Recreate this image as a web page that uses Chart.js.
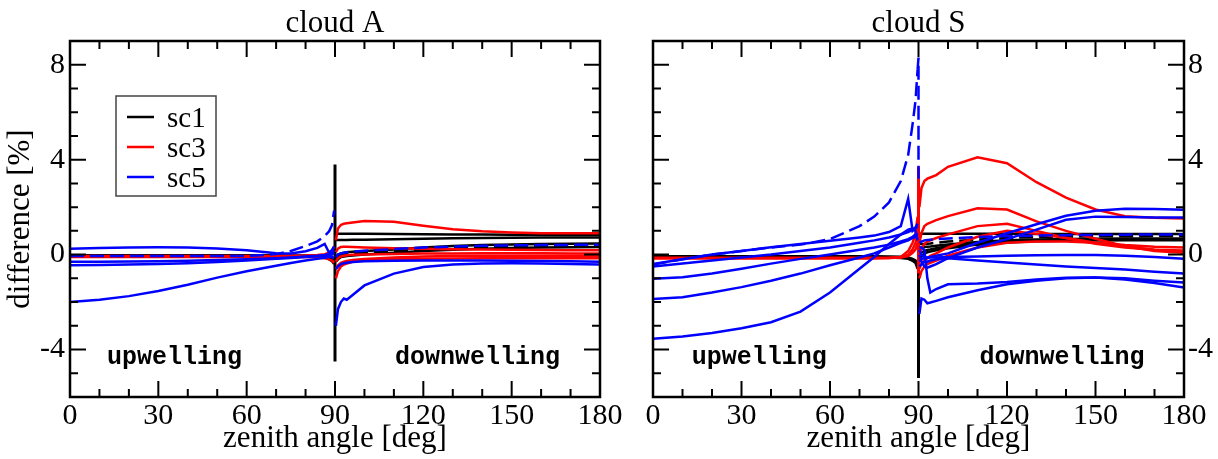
<!DOCTYPE html>
<html>
<head>
<meta charset="utf-8">
<script src="https://cdn.jsdelivr.net/npm/chart.js@4.4.1/dist/chart.umd.min.js"></script>
<style>
  html, body { margin: 0; padding: 0; background: #fff; }
  #wrap { position: relative; width: 1218px; height: 459px; overflow: hidden; }
  canvas { position: absolute; top: 0; }
  #cA { left: 0; }
  #cS { left: 580px; }
</style>
</head>
<body>
<div id="wrap">
  <canvas id="cA" width="640" height="459"></canvas>
  <canvas id="cS" width="638" height="459"></canvas>
</div>
<script>
// angle grids [deg]
const upX = [0, 10, 20, 30, 40, 50, 60, 70, 75, 80, 84, 86.5, 88, 89, 89.7];
const dnX = [90.3, 91, 92, 93, 94, 96, 100, 110, 120, 130, 140, 150, 160, 170, 180];
const spikeX = [90, 90];
const xTicks = [0, 30, 60, 90, 120, 150, 180];
const yTicks = [-4, 0, 4, 8];

// cloud A, upwelling
const aUpBlack1 = [-0.08, -0.08, -0.08, -0.08, -0.08, -0.08, -0.07, -0.07, -0.07, -0.07, -0.09, -0.13, -0.2, -0.28, -0.4];
const aUpBlack2 = [-0.03, -0.03, -0.03, -0.03, -0.03, -0.03, -0.03, -0.03, -0.04, -0.04, -0.05, -0.08, -0.12, -0.18, -0.3];
const aUpRed1 = [-0.06, -0.06, -0.06, -0.06, -0.06, -0.06, -0.06, -0.06, -0.05, -0.04, -0.02, 0.02, 0.08, 0.15, 0.35];
const aUpRed2 = [-0.1, -0.1, -0.1, -0.1, -0.1, -0.1, -0.1, -0.1, -0.1, -0.1, -0.12, -0.15, -0.2, -0.25, -0.35];
const aUpBlue1 = [0.25, 0.28, 0.3, 0.31, 0.3, 0.26, 0.18, 0.06, 0.05, 0.14, 0.28, 0.45, 0.08, 0.2, 0.35];
const aUpBlue2 = [-0.3, -0.3, -0.29, -0.28, -0.26, -0.23, -0.2, -0.15, -0.12, -0.08, -0.05, -0.02, 0.03, 0.08, 0.18];
const aUpBlue3 = [-0.45, -0.44, -0.42, -0.4, -0.36, -0.31, -0.25, -0.18, -0.14, -0.1, -0.07, -0.05, -0.02, 0.0, 0.08];
const aUpBlue4 = [-2.0, -1.9, -1.75, -1.53, -1.27, -0.97, -0.7, -0.47, -0.35, -0.25, -0.18, -0.13, -0.1, -0.1, -0.15];
const aUpBlueDash = [-0.06, -0.06, -0.06, -0.06, -0.06, -0.06, -0.06, 0.02, 0.15, 0.36, 0.56, 0.78, 0.98, 1.25, 1.85];

// cloud A, downwelling
const aDnBlack1 = [0.88, 0.88, 0.88, 0.88, 0.88, 0.88, 0.88, 0.87, 0.86, 0.85, 0.85, 0.84, 0.84, 0.83, 0.83];
const aDnBlack2 = [0.62, 0.62, 0.62, 0.62, 0.62, 0.63, 0.63, 0.65, 0.67, 0.69, 0.7, 0.71, 0.72, 0.72, 0.72];
const aDnBlack3 = [-0.1, 0.0, 0.05, 0.08, 0.1, 0.12, 0.15, 0.22, 0.3, 0.36, 0.4, 0.43, 0.45, 0.46, 0.47];
const aDnBlack4 = [-0.2, -0.1, -0.02, 0.0, 0.02, 0.05, 0.08, 0.15, 0.22, 0.28, 0.32, 0.35, 0.37, 0.38, 0.38];
const aDnBlack5 = [-0.3, -0.2, -0.1, -0.08, -0.06, -0.04, 0.0, 0.08, 0.15, 0.2, 0.25, 0.28, 0.3, 0.31, 0.32];
const aDnRed1 = [0.6, 1.1, 1.25, 1.3, 1.32, 1.35, 1.42, 1.38, 1.22, 1.07, 0.98, 0.93, 0.9, 0.9, 0.9];
const aDnRed2 = [0.1, 0.25, 0.32, 0.33, 0.33, 0.32, 0.3, 0.27, 0.25, 0.23, 0.21, 0.2, 0.19, 0.18, 0.18];
const aDnRed3 = [-0.3, -0.15, -0.08, -0.05, -0.03, -0.01, 0.0, 0.03, 0.05, 0.05, 0.06, 0.06, 0.06, 0.05, 0.05];
const aDnRed4 = [-0.6, -0.45, -0.35, -0.3, -0.27, -0.23, -0.18, -0.12, -0.08, -0.06, -0.05, -0.05, -0.05, -0.05, -0.05];
const aDnRed5 = [-1.0, -0.7, -0.5, -0.42, -0.38, -0.3, -0.23, -0.18, -0.17, -0.16, -0.15, -0.15, -0.15, -0.15, -0.15];
const aDnBlue1 = [-3.0, -2.3, -2.0, -1.85, -1.9, -1.7, -1.3, -0.8, -0.52, -0.42, -0.37, -0.36, -0.37, -0.4, -0.42];
const aDnBlue2 = [-0.6, -0.5, -0.4, -0.36, -0.34, -0.31, -0.28, -0.26, -0.25, -0.25, -0.25, -0.26, -0.27, -0.28, -0.3];
const aDnBlueDash = [-0.1, 0.0, 0.05, 0.08, 0.1, 0.12, 0.16, 0.23, 0.3, 0.34, 0.37, 0.39, 0.4, 0.41, 0.41];
const aSpikeBlack = [3.8, -4.5];

// cloud S, upwelling
const sUpBlack1 = [-0.12, -0.12, -0.12, -0.12, -0.12, -0.12, -0.12, -0.12, -0.12, -0.12, -0.14, -0.18, -0.26, -0.36, -0.6];
const sUpBlack2 = [-0.07, -0.07, -0.07, -0.07, -0.07, -0.07, -0.07, -0.07, -0.07, -0.08, -0.09, -0.12, -0.18, -0.25, -0.4];
const sUpRed1 = [-0.15, -0.15, -0.15, -0.15, -0.15, -0.15, -0.15, -0.15, -0.15, -0.14, -0.1, 0.15, 0.5, 0.9, 1.6];
const sUpRed2 = [-0.15, -0.15, -0.15, -0.15, -0.15, -0.15, -0.15, -0.15, -0.15, -0.14, -0.12, 0.0, 0.22, 0.5, 0.95];
const sUpRed3 = [-0.13, -0.13, -0.13, -0.13, -0.13, -0.13, -0.13, -0.13, -0.13, -0.13, -0.12, -0.06, 0.08, 0.22, 0.5];
const sUpBlue1 = [-0.4, -0.2, 0.0, 0.15, 0.31, 0.45, 0.58, 0.72, 0.8, 0.95, 1.2, 2.35, 1.0, 1.1, 1.2];
const sUpBlue2 = [-0.5, -0.38, -0.25, -0.12, 0.0, 0.15, 0.3, 0.5, 0.6, 0.72, 0.85, 0.95, 1.05, 1.15, 1.3];
const sUpBlue3 = [-1.02, -0.95, -0.8, -0.6, -0.38, -0.18, 0.0, 0.2, 0.3, 0.42, 0.55, 0.65, 0.75, 0.85, 0.9];
const sUpBlue4 = [-1.87, -1.8, -1.6, -1.37, -1.1, -0.8, -0.45, -0.12, 0.05, 0.3, 0.5, 0.6, 0.7, 0.75, 0.8];
const sUpBlue5 = [-3.55, -3.45, -3.3, -3.1, -2.85, -2.4, -1.6, -0.6, -0.1, 0.45, 0.85, 1.05, 1.1, 1.0, 0.6];
const sUpBlueDash = [-0.42, -0.2, 0.0, 0.15, 0.3, 0.42, 0.65, 1.2, 1.6, 2.2, 3.1, 4.2, 5.5, 6.5, 7.8];

// cloud S, downwelling
const sDnBlack1 = [0.88, 0.88, 0.88, 0.88, 0.88, 0.88, 0.88, 0.88, 0.88, 0.87, 0.87, 0.87, 0.87, 0.87, 0.87];
const sDnBlack2 = [0.3, 0.3, 0.32, 0.33, 0.34, 0.37, 0.43, 0.53, 0.6, 0.64, 0.66, 0.67, 0.68, 0.68, 0.68];
const sDnBlack3 = [0.0, 0.1, 0.15, 0.2, 0.22, 0.27, 0.35, 0.47, 0.55, 0.6, 0.62, 0.63, 0.64, 0.64, 0.64];
const sDnBlack4 = [0.45, 0.45, 0.45, 0.46, 0.47, 0.5, 0.55, 0.63, 0.7, 0.74, 0.76, 0.77, 0.77, 0.78, 0.78];
const sDnBlack5 = [-0.3, -0.1, 0.05, 0.1, 0.13, 0.18, 0.27, 0.42, 0.51, 0.56, 0.58, 0.59, 0.6, 0.6, 0.6];
const sDnRed1 = [2.0, 2.8, 3.1, 3.2, 3.25, 3.35, 3.7, 4.1, 3.85, 3.05, 2.4, 1.9, 1.62, 1.55, 1.52];
const sDnRed2 = [0.5, 0.9, 1.2, 1.3, 1.35, 1.45, 1.62, 1.95, 1.9, 1.4, 1.0, 0.67, 0.35, 0.15, 0.08];
const sDnRed3 = [0.0, 0.25, 0.45, 0.55, 0.6, 0.7, 0.85, 1.2, 1.3, 1.0, 0.7, 0.46, 0.3, 0.2, 0.17];
const sDnRed4 = [-0.6, -0.4, -0.25, -0.15, -0.05, 0.05, 0.3, 0.75, 1.0, 0.88, 0.7, 0.5, 0.4, 0.33, 0.3];
const sDnRed5 = [-1.0, -0.7, -0.5, -0.4, -0.35, -0.25, -0.05, 0.3, 0.5, 0.55, 0.55, 0.5, 0.35, 0.2, 0.1];
const sDnBlue1 = [0.2, 0.0, -0.1, -0.13, -0.1, -0.05, 0.05, 0.5, 0.9, 1.28, 1.64, 1.85, 1.93, 1.92, 1.89];
const sDnBlue2 = [0.0, -0.3, -0.5, -0.55, -0.5, -0.4, -0.15, 0.3, 0.65, 1.05, 1.47, 1.6, 1.58, 1.56, 1.56];
const sDnBlue3 = [-0.3, -0.2, -0.15, -0.12, -0.12, -0.12, -0.1, -0.08, -0.05, -0.03, -0.02, -0.02, -0.05, -0.1, -0.17];
const sDnBlue4 = [-0.5, -0.4, -0.3, -0.3, -0.25, -0.2, -0.15, -0.25, -0.33, -0.42, -0.5, -0.56, -0.63, -0.72, -0.8];
const sDnBlue5 = [0.3, 0.3, 0.2, -1.0, -1.6, -1.45, -1.25, -1.22, -1.15, -1.05, -0.98, -0.96, -1.0, -1.1, -1.18];
const sDnBlue6 = [-2.5, -1.85, -1.9, -2.05, -2.02, -1.95, -1.8, -1.5, -1.25, -1.1, -1.0, -0.96, -1.05, -1.2, -1.39];
const sDnBlueDash = [0.5, 0.55, 0.6, 0.62, 0.63, 0.65, 0.68, 0.74, 0.78, 0.8, 0.82, 0.83, 0.84, 0.85, 0.85];
const sDashSpikeX = [89.7, 90, 90];
const sSpikeBlueDash = [7.8, 8.3, 3.2];
const sSpikeRed = [3.7, -0.8];
const sSpikeBlack = [3.6, -5.2];

const BLACK = '#000000', RED = '#ff0000', BLUE = '#0000ff';
const SERIF = "'Liberation Serif', 'Times New Roman', serif";

function line(xs, ys, color, dashed, width) {
  return {
    data: xs.map((x, i) => ({ x: x, y: ys[i] })),
    borderColor: color,
    borderWidth: width || 2.5,
    borderDash: dashed ? [14, 6] : [],
    pointRadius: 0,
    tension: 0,
    fill: false
  };
}

// frame with inward ticks, panel title, notes and legend box
const framePlugin = {
  id: 'frame',
  afterDatasetsDraw(chart, args, opts) {
    const ctx = chart.ctx, a = chart.chartArea;
    const x = chart.scales.x, y = chart.scales.y;
    ctx.save();
    ctx.strokeStyle = '#000';
    ctx.lineWidth = 2;
    ctx.beginPath();
    for (let v = 0; v <= 180; v += 10) {
      const px = x.getPixelForValue(v);
      const len = v % 30 === 0 ? 16 : 8;
      ctx.moveTo(px, a.bottom); ctx.lineTo(px, a.bottom - len);
      ctx.moveTo(px, a.top); ctx.lineTo(px, a.top + len);
    }
    for (let v = -6; v <= 9; v++) {
      const py = y.getPixelForValue(v);
      const len = v % 4 === 0 ? 16 : 8;
      ctx.moveTo(a.left, py); ctx.lineTo(a.left + len, py);
      ctx.moveTo(a.right, py); ctx.lineTo(a.right - len, py);
    }
    ctx.stroke();
    ctx.lineWidth = 2.5;
    ctx.strokeRect(a.left, a.top, a.right - a.left, a.bottom - a.top);

    ctx.fillStyle = '#000';
    ctx.textBaseline = 'alphabetic';
    ctx.textAlign = 'center';
    ctx.font = '31px ' + SERIF;
    ctx.fillText(opts.title, (a.left + a.right) / 2, 31.5);

    ctx.textAlign = 'left';
    ctx.font = "bold 25px 'Liberation Mono', 'Courier New', monospace";
    opts.notes.forEach(n => {
      ctx.fillText(n.text, x.getPixelForValue(n.at), y.getPixelForValue(-4.62));
    });

    if (opts.legend) {
      const L = opts.legend;
      ctx.lineWidth = 1.5;
      ctx.strokeStyle = '#444';
      ctx.strokeRect(L.x, L.y, 100, 100);
      ctx.font = '29px ' + SERIF;
      L.items.forEach((it, i) => {
        const ry = L.y + 21 + i * 30;
        ctx.strokeStyle = it.color;
        ctx.lineWidth = 2.5;
        ctx.beginPath();
        ctx.moveTo(L.x + 11, ry); ctx.lineTo(L.x + 38, ry);
        ctx.stroke();
        ctx.fillText(it.label, L.x + 51, ry + 9.5);
      });
    }
    ctx.restore();
  }
};

function makeChart(id, datasets, side, extra) {
  const tickFont = { family: SERIF, size: 30 };
  const yAxis = {
    type: 'linear', min: -6, max: 9,
    position: side,
    grid: { display: false, drawTicks: false },
    border: { display: false },
    afterBuildTicks: s => { s.ticks = yTicks.map(v => ({ value: v })); },
    afterFit: s => { s.width = side === 'left' ? 70 : 34; },
    ticks: { font: tickFont, color: '#000', padding: side === 'left' ? 5 : 4, callback: v => String(v) },
    title: side === 'left'
      ? { display: true, text: 'difference [%]', font: { family: SERIF, size: 31 }, color: '#000', padding: { top: 2, bottom: 2 } }
      : { display: false }
  };
  return new Chart(document.getElementById(id), {
    type: 'line',
    data: { datasets: datasets },
    options: {
      responsive: false,
      animation: false,
      devicePixelRatio: 1,
      layout: { padding: side === 'left' ? { left: 0, right: 40, top: 41, bottom: 0 } : { left: 73, right: 0, top: 41, bottom: 0 } },
      scales: {
        x: {
          type: 'linear', min: 0, max: 180,
          grid: { display: false, drawTicks: false },
          border: { display: false },
          afterBuildTicks: s => { s.ticks = xTicks.map(v => ({ value: v })); },
          afterFit: s => { s.height = 62; },
          ticks: { font: tickFont, color: '#000', padding: 1, maxRotation: 0 },
          title: { display: true, text: 'zenith angle [deg]', font: { family: SERIF, size: 31 }, color: '#000', padding: { top: 0, bottom: 2 } }
        },
        y: yAxis
      },
      plugins: {
        legend: { display: false },
        tooltip: { enabled: false },
        title: { display: false },
        frame: extra
      }
    },
    plugins: [framePlugin]
  });
}

const dataA = [
  line(upX, aUpBlue1, BLUE), line(upX, aUpBlue2, BLUE), line(upX, aUpBlue3, BLUE), line(upX, aUpBlue4, BLUE),
  line(upX, aUpBlueDash, BLUE, true),
  line(dnX, aDnBlue1, BLUE), line(dnX, aDnBlue2, BLUE), line(dnX, aDnBlueDash, BLUE, true),
  line(upX, aUpRed1, RED), line(upX, aUpRed2, RED),
  line(dnX, aDnRed1, RED), line(dnX, aDnRed2, RED), line(dnX, aDnRed3, RED), line(dnX, aDnRed4, RED), line(dnX, aDnRed5, RED),
  line(upX, aUpBlack1, BLACK), line(upX, aUpBlack2, BLACK),
  line(dnX, aDnBlack1, BLACK), line(dnX, aDnBlack2, BLACK), line(dnX, aDnBlack3, BLACK),
  line(dnX, aDnBlack4, BLACK, true), line(dnX, aDnBlack5, BLACK),
  line(spikeX, aSpikeBlack, BLACK, false, 3)
];

const dataS = [
  line(upX, sUpBlue1, BLUE), line(upX, sUpBlue2, BLUE), line(upX, sUpBlue3, BLUE), line(upX, sUpBlue4, BLUE), line(upX, sUpBlue5, BLUE),
  line(upX, sUpBlueDash, BLUE, true), line(sDashSpikeX, sSpikeBlueDash, BLUE, true),
  line(dnX, sDnBlue1, BLUE), line(dnX, sDnBlue2, BLUE), line(dnX, sDnBlue3, BLUE), line(dnX, sDnBlue4, BLUE),
  line(dnX, sDnBlue5, BLUE), line(dnX, sDnBlue6, BLUE), line(dnX, sDnBlueDash, BLUE, true),
  line(upX, sUpRed1, RED), line(upX, sUpRed2, RED), line(upX, sUpRed3, RED),
  line(dnX, sDnRed1, RED), line(dnX, sDnRed2, RED), line(dnX, sDnRed3, RED), line(dnX, sDnRed4, RED), line(dnX, sDnRed5, RED),
  line(spikeX, sSpikeRed, RED, false, 3),
  line(upX, sUpBlack1, BLACK), line(upX, sUpBlack2, BLACK),
  line(dnX, sDnBlack1, BLACK), line(dnX, sDnBlack2, BLACK), line(dnX, sDnBlack3, BLACK),
  line(dnX, sDnBlack4, BLACK, true), line(dnX, sDnBlack5, BLACK),
  line(spikeX, sSpikeBlack, BLACK, false, 3)
];

makeChart('cA', dataA, 'left', {
  title: 'cloud A',
  notes: [{ text: 'upwelling', at: 12.6 }, { text: 'downwelling', at: 110.4 }],
  legend: { x: 116, y: 96, items: [{ label: 'sc1', color: BLACK }, { label: 'sc3', color: RED }, { label: 'sc5', color: BLUE }] }
});
makeChart('cS', dataS, 'right', {
  title: 'cloud S',
  notes: [{ text: 'upwelling', at: 13.1 }, { text: 'downwelling', at: 110.7 }],
  legend: null
});
</script>
</body>
</html>
